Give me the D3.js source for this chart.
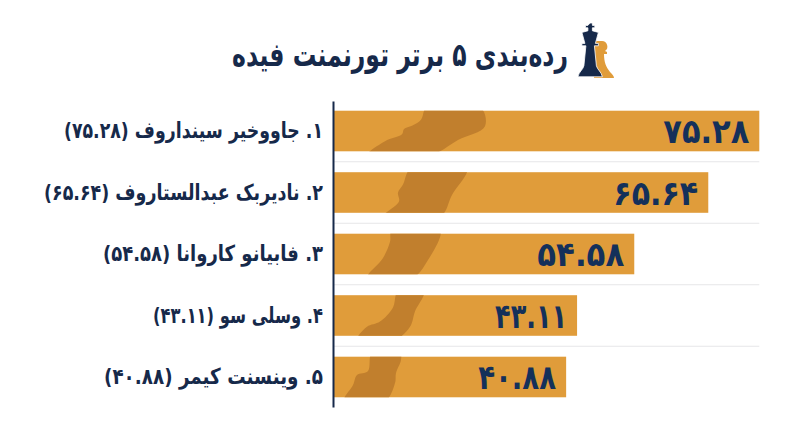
<!DOCTYPE html>
<html lang="fa">
<head>
<meta charset="utf-8">
<script src="https://cdn.jsdelivr.net/npm/d3@7"></script>
<style>
  body { margin: 0; background: #fff; }
  text { font-family: "DejaVu Sans", sans-serif; font-weight: bold; }
</style>
</head>
<body>
<div id="chart"></div>
<script>
const titleText = "رده‌بندی ۵ برتر تورنمنت فیده";
const players = ["جاووخیر سینداروف", "نادیربک عبدالستاروف", "فابیانو کاروانا", "وسلی سو", "وینسنت کیمر"];
const ranks = [1, 2, 3, 4, 5];
const ratings = [75.28, 65.64, 54.58, 43.11, 40.88];
// bar lengths as drawn in the picture, they do not follow the printed numbers exactly
const barLengths = [75.28, 66.27, 53.2, 43.1, 41.17];

// text widths in the picture, the original font is narrower than DejaVu
const labelWidths = [259, 279, 220, 170, 219];
const valueWidths = [86, 85, 87, 72, 78];

// darker brush stroke on each bar: [px from axis, share of bar height]
const strokes = [
    [[94, -0.1], [88, 0.22], [79, 0.37], [71, 0.45], [69, 0.58], [52, 0.75], [34, 1.1], [97, 1.1], [125, 0.72], [152, 0.38], [147, -0.1]],
    [[78, -0.1], [70, 0.3], [65, 0.5], [66, 0.72], [50, 1.1], [107, 1.1], [119, 0.56], [134, -0.1]],
    [[59, -0.1], [57, 0.2], [50, 0.6], [34, 1.1], [79, 1.1], [95, 0.65], [107, -0.1]],
    [[65, -0.1], [60, 0.3], [47, 0.65], [34, 0.78], [24, 1.1], [62, 1.1], [77, 0.78], [82, 0.4], [91, -0.1]],
    [[39, -0.1], [35, 0.35], [24, 0.45], [20, 0.7], [11, 1.1], [52, 1.1], [62, 0.65], [63, 0.4], [68, 0.08], [67, -0.1]]
];

const navy = "#16294a";
const gold = "#e09c3a";
const goldDark = "#c17f2d";

const faDigits = n => String(n).replace(/\d/g, d => "۰۱۲۳۴۵۶۷۸۹"[+d]);
const rowLabel = i => `${faDigits(ranks[i])}. ${players[i]} (${faDigits(ratings[i].toFixed(2))})`;

const svg = d3.select("#chart").append("svg")
    .attr("width", 800)
    .attr("height", 447);

const x = d3.scaleLinear()
    .domain([0, 75.28])
    .range([333, 759.3]);

const y = d3.scaleBand()
    .domain(ranks)
    .range([101, 407])
    .paddingInner(0.34)
    .paddingOuter(0.158);

// separators between the rows
svg.selectAll(".sep")
    .data(ranks.slice(0, -1))
    .enter()
    .append("line")
    .attr("class", "sep")
    .attr("x1", x(0))
    .attr("x2", x.range()[1])
    .attr("y1", d => y(d) + y.bandwidth() + y.step() * 0.17)
    .attr("y2", d => y(d) + y.bandwidth() + y.step() * 0.17)
    .attr("stroke", "#e6e6e8")
    .attr("stroke-width", 1);

const rows = svg.selectAll(".row")
    .data(ranks)
    .enter()
    .append("g")
    .attr("class", "row");

rows.append("clipPath")
    .attr("id", d => `bar-clip-${d}`)
    .append("rect")
    .attr("x", x(0))
    .attr("y", d => y(d))
    .attr("width", (d, i) => x(barLengths[i]) - x(0))
    .attr("height", y.bandwidth());

rows.append("rect")
    .attr("x", x(0))
    .attr("y", d => y(d))
    .attr("width", (d, i) => x(barLengths[i]) - x(0))
    .attr("height", y.bandwidth())
    .attr("fill", gold);

rows.append("path")
    .attr("clip-path", d => `url(#bar-clip-${d})`)
    .attr("fill", goldDark)
    .attr("d", (d, i) => d3.line()
        .x(p => x(0) + p[0])
        .y(p => y(d) + p[1] * y.bandwidth())
        .curve(d3.curveCatmullRomClosed.alpha(0.5))(strokes[i]));

rows.append("text")
    .attr("x", (d, i) => x(barLengths[i]) - 10)
    .attr("y", d => y(d) + y.bandwidth() / 2)
    .attr("dy", "0.36em")
    .attr("text-anchor", "end")
    .attr("textLength", (d, i) => valueWidths[i])
    .attr("lengthAdjust", "spacingAndGlyphs")
    .style("direction", "ltr")
    .style("font-size", "34px")
    .style("fill", "#14305a")
    .text((d, i) => faDigits(ratings[i].toFixed(2)));

// axis with the names as tick labels
const axis = svg.append("g")
    .attr("transform", `translate(${x(0)},0)`)
    .call(d3.axisLeft(y).tickSize(0).tickPadding(10).tickFormat((d, i) => rowLabel(i)));

axis.select(".domain")
    .attr("stroke", navy)
    .attr("stroke-width", 2);

axis.selectAll("text")
    .attr("text-anchor", "start")
    .attr("textLength", (d, i) => labelWidths[i])
    .attr("lengthAdjust", "spacingAndGlyphs")
    .style("direction", "rtl")
    .style("font-size", "22px")
    .style("font-family", '"DejaVu Sans", sans-serif')
    .style("font-weight", "bold")
    .style("fill", navy);

// title
svg.append("text")
    .attr("x", 568)
    .attr("y", 66)
    .attr("text-anchor", "start")
    .attr("textLength", 336)
    .attr("lengthAdjust", "spacingAndGlyphs")
    .style("direction", "rtl")
    .style("font-size", "33px")
    .style("fill", navy)
    .text(titleText);

// chess pieces next to the title
const icon = svg.append("g");
icon.append("path")
    .attr("fill", gold)
    .attr("d", "M602 41 a5.5 5.5 0 0 1 3 10 l2 1 v2 h-3 c0 8 2 13 6 18 c2 2 4 4 4 6 h-20 v-37 z");
icon.append("path")
    .attr("fill", navy)
    .attr("stroke", "#fff")
    .attr("stroke-width", 0.8)
    .attr("d", "M590 23 h2.4 v2.4 h2.4 v2.4 h-2.4 v3 l6 1.6 l-3 11 h3 v2.4 h-4 l2 20 c1 4 5 6 6 11 h-24.5 c1 -5 5 -7 6 -11 l2 -20 h-4 v-2.4 h3 l-3 -11 l6 -1.6 v-3 h-2.4 v-2.4 h2.4 z");
</script>
</body>
</html>
